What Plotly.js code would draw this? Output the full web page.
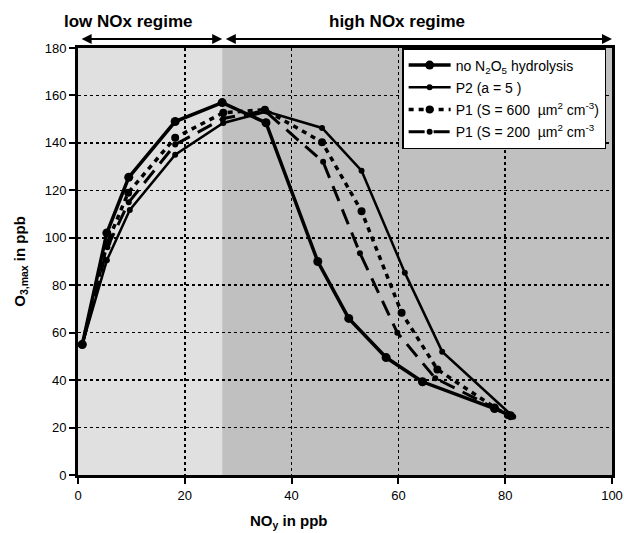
<!DOCTYPE html>
<html>
<head>
<meta charset="utf-8">
<script src="https://cdn.plot.ly/plotly-3.0.1.min.js"></script>
<style>html,body{margin:0;padding:0;background:#fff;}#chart{width:624px;height:533px;}</style>
</head>
<body>
<div id="chart"></div>
<script>
// Data
const noHydX = [0.8, 5.4, 9.5, 18.2, 27.0, 35.2, 44.9, 50.7, 57.7, 64.5, 78.0, 81.0];
const noHydY = [55, 102, 125.5, 149, 157, 148.5, 90, 66, 49.5, 39.3, 28, 25];

const p2X = [0.8, 5.4, 9.7, 18.2, 27.2, 35.3, 45.7, 53.1, 61.2, 68.2, 81.5];
const p2Y = [55, 90.5, 111.7, 135, 148.4, 153.2, 146.3, 128.3, 85.3, 52, 24.6];

const p1s600X = [0.8, 5.5, 9.4, 18.2, 27.2, 35.0, 45.7, 53.1, 60.6, 67.3, 78.0, 80.5];
const p1s600Y = [55, 98, 119, 142.2, 152.7, 154, 140.3, 111.2, 68.4, 44.5, 28.5, 25.3];

const p1s200X = [0.8, 5.5, 9.5, 18.2, 27.2, 35.0, 45.9, 52.8, 59.8, 66.9, 78.1, 81.0];
const p1s200Y = [55, 96, 115, 139.3, 150.3, 153.5, 132, 93.5, 60, 40.8, 28.1, 25];

const seriesNames = [
  "no N<sub>2</sub>O<sub>5</sub> hydrolysis",
  "P2 (a = 5 )",
  "P1 (S = 600  \u00b5m<sup>2</sup> cm<sup>-3</sup>)",
  "P1 (S = 200  \u00b5m<sup>2</sup> cm<sup>-3</sup>"
];
const regimeBoundary = 27;
const xTicks = [0, 20, 40, 60, 80, 100];
const yTicks = [0, 20, 40, 60, 80, 100, 120, 140, 160, 180];

const FONT = "Liberation Sans, Arial, Helvetica, sans-serif";

const traces = [
  {x: noHydX, y: noHydY, name: seriesNames[0], legendgroup: "a", mode: "lines+markers",
   line: {color: "#000", width: 3.5}, marker: {color: "#000", size: 9}},
  {x: p2X, y: p2Y, name: seriesNames[1], legendgroup: "b", mode: "lines+markers",
   line: {color: "#000", width: 2.5}, marker: {color: "#000", size: 6}},
  {x: p1s600X, y: p1s600Y, name: seriesNames[2], legendgroup: "c", mode: "lines+markers",
   line: {color: "#000", width: 3.5, dash: "5px,5px"}, marker: {color: "#000", size: 8}},
  {x: p1s200X, y: p1s200Y, name: seriesNames[3], legendgroup: "d", mode: "lines+markers",
   line: {color: "#000", width: 3, dash: "16px,9px"}, marker: {color: "#000", size: 6}}
];

const layout = {
  width: 624, height: 533,
  margin: {l: 78, r: 12, t: 48, b: 58},
  paper_bgcolor: "#fff",
  plot_bgcolor: "#fff",
  font: {family: FONT, color: "#000", size: 13},
  showlegend: true,
  legend: {
    x: 0.607, y: 1, xanchor: "left", yanchor: "top",
    bgcolor: "#fff", bordercolor: "#000", borderwidth: 1.5,
    font: {family: FONT, size: 14, color: "#000"},
    itemwidth: 42, traceorder: "grouped", tracegroupgap: 1
  },
  xaxis: {
    range: [0, 100], tickvals: xTicks, ticktext: xTicks.map(String),
    showline: true, linecolor: "#000", linewidth: 3, mirror: true,
    ticks: "outside", ticklen: 6, tickwidth: 2, tickcolor: "#000",
    showgrid: true, gridcolor: "#000", gridwidth: 1.5, griddash: "3px,3px",
    zeroline: false, tickfont: {size: 13, family: FONT}
  },
  yaxis: {
    range: [0, 180], tickvals: yTicks, ticktext: yTicks.map(String),
    showline: true, linecolor: "#000", linewidth: 3, mirror: true,
    ticks: "outside", ticklen: 6, tickwidth: 2, tickcolor: "#000",
    showgrid: true, gridcolor: "#000", gridwidth: 1.5, griddash: "3px,3px",
    zeroline: false, tickfont: {size: 13, family: FONT},
    title: {text: "<b>O<sub>3,max</sub> in ppb</b>", font: {size: 15, family: FONT}, standoff: 16}
  },
  shapes: [
    {type: "rect", xref: "x", yref: "paper", x0: 0, x1: regimeBoundary, y0: 0, y1: 1,
     fillcolor: "#e0e0e0", line: {width: 0}, layer: "below"},
    {type: "rect", xref: "x", yref: "paper", x0: regimeBoundary, x1: 100, y0: 0, y1: 1,
     fillcolor: "#c0c0c0", line: {width: 0}, layer: "below"}
  ],
  annotations: [
    {text: "<b>NO<sub>y</sub> in ppb</b>", xref: "paper", yref: "paper", x: 0.395, y: -0.11,
     xanchor: "center", yanchor: "middle", showarrow: false, font: {size: 15, family: FONT}},
    {text: "<b>low NOx regime</b>", xref: "x", yref: "paper", x: 9.4, y: 1.063,
     xanchor: "center", yanchor: "middle", showarrow: false, font: {size: 17, family: FONT}},
    {text: "<b>high NOx regime</b>", xref: "x", yref: "paper", x: 59.7, y: 1.063,
     xanchor: "center", yanchor: "middle", showarrow: false, font: {size: 17, family: FONT}},
    {text: "", xref: "x", yref: "paper", x: regimeBoundary, y: 1.021,
     axref: "x", ayref: "pixel", ax: 0.4, ay: 0, showarrow: true,
     arrowhead: 2, startarrowhead: 2, arrowside: "end+start", arrowsize: 1, startarrowsize: 1,
     arrowwidth: 2, arrowcolor: "#000", standoff: 0, startstandoff: 0},
    {text: "", xref: "x", yref: "paper", x: 100, y: 1.021,
     axref: "x", ayref: "pixel", ax: regimeBoundary + 0.4, ay: 0, showarrow: true,
     arrowhead: 2, startarrowhead: 2, arrowside: "end+start", arrowsize: 1, startarrowsize: 1,
     arrowwidth: 2, arrowcolor: "#000", standoff: 0, startstandoff: 0}
  ]
};

Plotly.newPlot("chart", traces, layout, {displayModeBar: false, staticPlot: true});
</script>
</body>
</html>
